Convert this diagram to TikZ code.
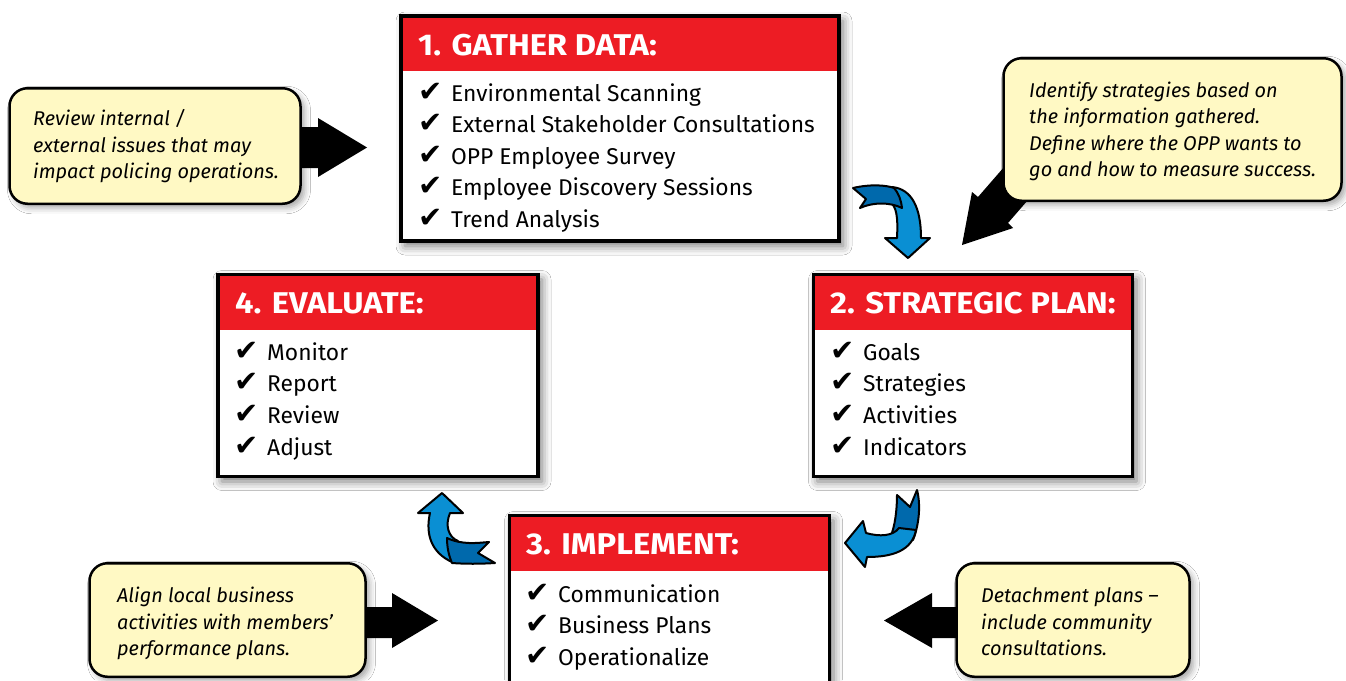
\documentclass[tikz,border=0pt]{standalone}
\usepackage{fontspec}
\setmainfont{Fira Sans}
\newfontfamily\hdrfont[FakeStretch=1.09]{Fira Sans Bold}
\newfontfamily\chkfont{DejaVu Sans}
\usetikzlibrary{shadows.blur}
\definecolor{hdrred}{HTML}{ED1C24}
\definecolor{notey}{HTML}{FFF9C4}
\definecolor{blueL}{HTML}{0A8FD3}
\definecolor{blueD}{HTML}{0069AC}
\newcommand\mychk{\makebox[33pt][l]{\chkfont\fontsize{29}{29}\selectfont ✔}}
\tikzset{
  box/.style={draw=black, line width=3.5pt, fill=white, outer sep=0pt, inner sep=0pt,
    blur shadow={shadow xshift=4pt, shadow yshift=-5pt, shadow blur radius=9pt, shadow opacity=55}},
  note/.style={draw=black, line width=2.5pt, fill=notey, rounded corners=18pt, outer sep=0pt, inner sep=0pt,
    blur shadow={shadow xshift=4pt, shadow yshift=-4pt, shadow blur radius=6pt, shadow opacity=35}},
  hdr/.style={anchor=base west, inner sep=0pt, text=white, font=\hdrfont\fontsize{30}{30}\selectfont},
  item/.style={anchor=base west, inner sep=0pt, font=\fontsize{22.8}{31.5}\selectfont},
  ntxt/.style={anchor=base west, inner sep=0pt, font=\itshape\fontsize{19.9}{26.5}\selectfont},
  blk/.style={fill=black},
  light/.style={fill=blueL, draw=black, line width=2pt, line join=round},
  dark/.style={fill=blueD, draw=black, line width=2pt, line join=round},
  border/.style={draw=black, line width=3.5pt}
}
\begin{document}
\begin{tikzpicture}[x=1pt, y=-1pt]
\useasboundingbox (0,0) rectangle (1346,680);
\fill[white] (0,0) rectangle (1346,680);

% ---- black arrows (behind callouts) ----
\fill[blk] (290,127) -- (318,127) -- (318,118) -- (367,147.5) -- (318,177) -- (318,168) -- (290,168) -- cycle;
\fill[blk] (355,607) -- (392,607) -- (392,593) -- (438,620.5) -- (392,648) -- (392,638) -- (355,638) -- cycle;
\fill[blk] (965,607) -- (932,607) -- (932,593) -- (884,620.5) -- (932,648) -- (932,638) -- (965,638) -- cycle;
\fill[blk] (1011,159) -- (978,197) -- (972,192) -- (962,245) -- (1013,228) -- (1008,223) -- (1041,185) -- cycle;

% ---- callouts ----
\node[note, minimum width=291pt, minimum height=115.5pt] (nA) at (155,146) {};
\node[note, minimum width=338pt, minimum height=142.5pt] (nB) at (1172.5,129.5) {};
\node[note, minimum width=276pt, minimum height=113.5pt] (nC) at (227.5,620) {};
\node[note, minimum width=233pt, minimum height=113.5pt] (nD) at (1073,620) {};

\node[ntxt] (nA1) at (33,125.5) {Review internal /};
\node[ntxt] (nA2) at (33,152) {external issues that may};
\node[ntxt] (nA3) at (33,178.5) {impact policing operations.};

\node[ntxt] (nB1) at (1029,97) {Identify strategies based on};
\node[ntxt] (nB2) at (1029,123.5) {the information gathered.};
\node[ntxt] (nB3) at (1029,150) {Define where the OPP wants to};
\node[ntxt] (nB4) at (1029,176.5) {go and how to measure success.};

\node[ntxt] (nC1) at (117,602.5) {Align local business};
\node[ntxt] (nC2) at (117,629) {activities with members’};
\node[ntxt] (nC3) at (117,655.5) {performance plans.};

\node[ntxt] (nD1) at (981,602.5) {Detachment plans –};
\node[ntxt] (nD2) at (981,629) {include community};
\node[ntxt] (nD3) at (981,655.5) {consultations.};

% ---- main boxes ----
\node[box, minimum width=438pt, minimum height=225pt] (b1) at (620,128.5) {};
\fill[hdrred] (b1.north west) rectangle ([yshift=-55pt]b1.north east);
\draw[border] (b1.north west) rectangle (b1.south east);

\node[box, minimum width=319pt, minimum height=202pt] (b2) at (973,375.5) {};
\fill[hdrred] (b2.north west) rectangle ([yshift=-55.5pt]b2.north east);
\draw[border] (b2.north west) rectangle (b2.south east);

\node[box, minimum width=320pt, minimum height=202pt] (b4) at (378,375.5) {};
\fill[hdrred] (b4.north west) rectangle ([yshift=-55.5pt]b4.north east);
\draw[border] (b4.north west) rectangle (b4.south east);

\node[box, minimum width=320pt, minimum height=200pt] (b3) at (669.5,615.5) {};
\fill[hdrred] (b3.north west) rectangle ([yshift=-55.5pt]b3.north east);
\draw[border] (b3.north west) rectangle (b3.south east);

\node[hdr] (h1) at (418,55) {1. GATHER DATA:};
\node[hdr] (h2) at (830,313) {2. STRATEGIC PLAN:};
\node[hdr] (h4) at (235,313) {4. EVALUATE:};
\node[hdr] (h3) at (526,554) {3. IMPLEMENT:};

\foreach \t [count=\i] in {Environmental Scanning, External Stakeholder Consultations, OPP Employee Survey, Employee Discovery Sessions, Trend Analysis}
  \node[item] (b1i\i) at (418,{101+31.5*(\i-1)}) {\mychk\t};
\foreach \t [count=\i] in {Goals, Strategies, Activities, Indicators}
  \node[item] (b2i\i) at (830,{360+31.7*(\i-1)}) {\mychk\t};
\foreach \t [count=\i] in {Monitor, Report, Review, Adjust}
  \node[item] (b4i\i) at (234,{360+31.7*(\i-1)}) {\mychk\t};
\foreach \t [count=\i] in {Communication, Business Plans, Operationalize}
  \node[item] (b3i\i) at (525,{602+31.5*(\i-1)}) {\mychk\t};

% ---- blue curved arrows ----
% 1 -> 2
\draw[light] (892,187) .. controls (912,189) and (921,208) .. (921,238) -- (930,238) -- (908,258) -- (885,238) -- (897,238) .. controls (898,218) and (897,206) .. (889,201) -- cycle;
\draw[dark] (853,188) .. controls (870,184) and (886,185) .. (894,188) .. controls (899,194) and (901,200) .. (902,208) .. controls (890,202) and (873,202) .. (860,208) -- (866,199) -- cycle;
% 2 -> 3
\draw[dark] (897,495) -- (910,507) -- (917,490) .. controls (921,505) and (919,525) .. (913,540) -- (890,538) .. controls (895,527) and (897,510) .. cycle;
\draw[light] (899,528) .. controls (893,536) and (880,537) .. (866,533) -- (863,521) -- (845,543) -- (865,567) -- (867,557) .. controls (892,557) and (912,551) .. (916,530) -- cycle;
% 3 -> 4
\draw[light] (430,513) .. controls (425,535) and (432,553) .. (452,562) -- (458,541) .. controls (448,537) and (445,525) .. (450,513) -- (463,513) -- (442,493) -- (418,513) -- cycle;
\draw[dark] (447,538) .. controls (462,545) and (477,543) .. (489,542) -- (478,553) -- (495,563) .. controls (480,564) and (465,564) .. (452,563) .. controls (449,556) and (447,548) .. cycle;
\end{tikzpicture}
\end{document}
